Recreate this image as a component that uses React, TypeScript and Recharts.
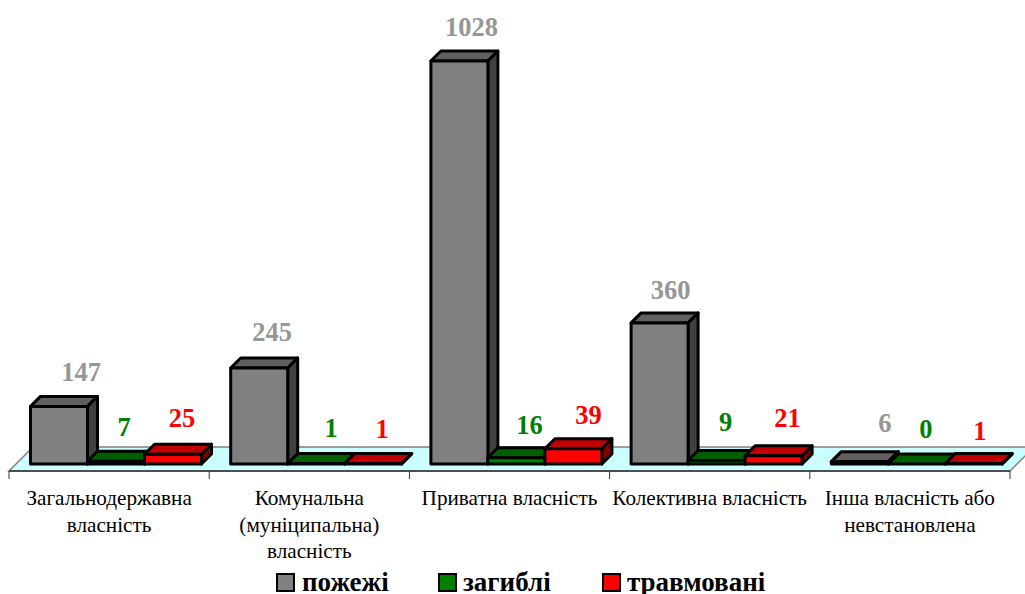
import { Bar, BarChart, LabelList, Legend, XAxis, YAxis, usePlotArea } from "recharts";

const categories = [
  "Загальнодержавна\nвласність",
  "Комунальна\n(муніципальна)\nвласність",
  "Приватна власність",
  "Колективна власність",
  "Інша власність або\nневстановлена",
];
const fires = [147, 245, 1028, 360, 6];
const deaths = [7, 1, 16, 9, 0];
const injured = [25, 1, 39, 21, 1];

const chartData = categories.map((name, i) => ({
  name,
  fires: fires[i],
  deaths: deaths[i],
  injured: injured[i],
}));

// hand placed data labels in the original, so each one gets a nudge [dx, lift]
const fireNudge = [[22, 34], [13, 36], [12, 34], [11, 33], [25, 39]];
const deathNudge = [[8, 34], [15, 36], [13, 33], [9, 38], [9, 35]];
const injuredNudge = [[9, 36], [9, 35], [15, 34], [14, 38], [6, 33]];

const SERIF = "'Liberation Serif', 'Times New Roman', serif";
const DEPTH = 10;
const SHIFT_X = 7;
const SHIFT_Y = -7;
const FLOOR_DEPTH = 24;

const series = [
  { key: "fires", name: "пожежі", front: "#808080", top: "#606060", side: "#404040", label: "#969696", nudge: fireNudge },
  { key: "deaths", name: "загиблі", front: "#008000", top: "#006000", side: "#004000", label: "#008000", nudge: deathNudge },
  { key: "injured", name: "травмовані", front: "#ff0000", top: "#c00000", side: "#800000", label: "#ff0000", nudge: injuredNudge },
];

const legendX = [[276, 302], [438, 463], [602, 627]];

function Prism(props: any, front: string, top: string, side: string) {
  const x = props.x + SHIFT_X;
  const y = props.y + SHIFT_Y;
  const w = props.width;
  const h = props.height;
  const common = { stroke: "#000", strokeWidth: 3, strokeLinejoin: "round" as const };
  return (
    <g>
      <path d={`M${x},${y}l${DEPTH},${-DEPTH}h${w}l${-DEPTH},${DEPTH}z`} fill={top} {...common} />
      <path d={`M${x + w},${y}l${DEPTH},${-DEPTH}v${h}l${-DEPTH},${DEPTH}z`} fill={side} {...common} />
      <rect x={x} y={y} width={w} height={h} fill={front} {...common} />
    </g>
  );
}

function Floor() {
  const plot = usePlotArea();
  if (!plot) return null;
  const bottom = plot.y + plot.height;
  const right = plot.x + plot.width;
  const band = plot.width / categories.length;
  const back = bottom - FLOOR_DEPTH;
  return (
    <g>
      <path
        d={`M${plot.x},${bottom}L${plot.x + FLOOR_DEPTH},${back}H${right + FLOOR_DEPTH}L${right},${bottom}z`}
        fill="#ccffff"
        stroke="#808080"
        strokeWidth={1.5}
      />
      <line x1={plot.x} x2={right} y1={bottom} y2={bottom} stroke="#333" strokeWidth={1.5} />
      {[0, 1, 2, 3, 4, 5].map((i) => (
        <line
          key={i}
          x1={plot.x + band * i}
          x2={plot.x + band * i}
          y1={bottom}
          y2={bottom + 8}
          stroke="#333"
          strokeWidth={1}
        />
      ))}
    </g>
  );
}

function CategoryTick({ x, y, payload }: any) {
  const lines = String(payload.value).split("\n");
  return (
    <text x={x} y={y + 28} textAnchor="middle" fontFamily={SERIF} fontSize={21.2} fill="#000">
      {lines.map((line, i) => (
        <tspan key={line} x={x} dy={i === 0 ? 0 : 26.5}>
          {line}
        </tspan>
      ))}
    </text>
  );
}

function ValueLabel(props: any, color: string, nudge: number[][]) {
  const { x, y, width, value, index } = props;
  const [dx, lift] = nudge[index];
  return (
    <text
      x={x + SHIFT_X + width / 2 + dx}
      y={y + SHIFT_Y - lift}
      dy="0.34em"
      textAnchor="middle"
      fontFamily={SERIF}
      fontWeight="bold"
      fontSize={26.5}
      fill={color}
    >
      {value}
    </text>
  );
}

function LegendRow() {
  return (
    <div style={{ position: "relative", width: 1025, height: 30 }}>
      {series.map((s, i) => (
        <div key={s.key}>
          <span
            style={{
              position: "absolute",
              left: legendX[i][0],
              top: 9,
              width: 15,
              height: 15,
              background: s.front,
              border: "2px solid #000",
            }}
          />
          <span
            style={{
              position: "absolute",
              left: legendX[i][1],
              top: 7,
              fontFamily: SERIF,
              fontWeight: "bold",
              fontSize: 27,
              lineHeight: "23px",
              color: "#000",
              whiteSpace: "nowrap",
            }}
          >
            {s.name}
          </span>
        </div>
      ))}
    </div>
  );
}

export default function App() {
  return (
    <div style={{ position: "absolute", left: 0, top: 0, width: 1025, height: 594, overflow: "hidden", background: "#fff" }}>
      <BarChart
        width={1025}
        height={594}
        data={chartData}
        margin={{ top: 0.6, right: 15, bottom: 0, left: 9 }}
        barCategoryGap={14.5}
        barGap={0}
      >
        <Floor />
        <XAxis
          dataKey="name"
          axisLine={false}
          tickLine={false}
          interval={0}
          height={123}
          tick={<CategoryTick />}
          tickMargin={0}
        />
        <YAxis hide domain={[0, 1200]} />
        <Legend
          verticalAlign="middle"
          content={() => <LegendRow />}
          wrapperStyle={{ position: "absolute", left: 0, top: 564, width: 1025, height: 30 }}
        />
        {series.map((s) => (
          <Bar
            key={s.key}
            dataKey={s.key}
            name={s.name}
            fill={s.front}
            isAnimationActive={false}
            shape={(p: any) => Prism(p, s.front, s.top, s.side)}
          >
            <LabelList dataKey={s.key} content={(p: any) => ValueLabel(p, s.label, s.nudge)} />
          </Bar>
        ))}
      </BarChart>
    </div>
  );
}
